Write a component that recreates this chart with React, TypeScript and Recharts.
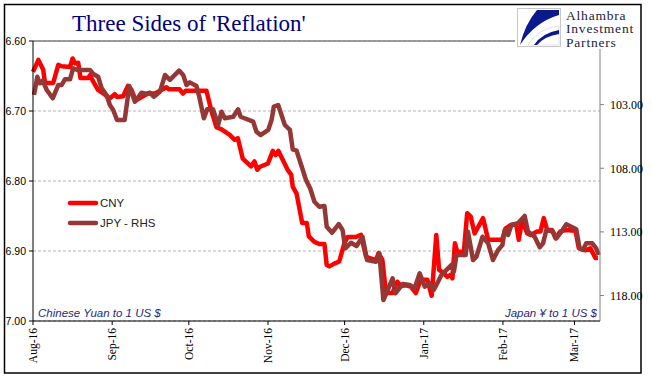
import React from "react";
import { LineChart, Line, XAxis, YAxis, CartesianGrid, ReferenceLine } from "recharts";

// Days since 1 Aug 2016
const monthDays = [0, 31, 61, 92, 122, 153, 184, 212];
const monthLabels = ["Aug-16", "Sep-16", "Oct-16", "Nov-16", "Dec-16", "Jan-17", "Feb-17", "Mar-17"];

const cnyTicks = [6.6, 6.7, 6.8, 6.9, 7.0];
const jpyTicks = [103, 108, 113, 118];

const cnyDays = [0, 2.1, 4.0, 4.7, 7.9, 9.9, 11.2, 14.5, 15.5, 16.4, 17.7, 18.6, 21.6, 22.3, 23.6, 25.5, 27.5, 30.1, 32.0, 32.9, 35.3, 37.2, 38.6, 40.2, 42.5, 45.0, 47.7, 50.3, 52.2, 53.2, 57.4, 58.7, 59.8, 67.9, 69.8, 71.8, 73.7, 77.0, 78.9, 80.2, 82.1, 85.4, 86.7, 87.8, 88.7, 92.0, 93.9, 95.0, 96.1, 99.7, 101.1, 101.7, 103.2, 105.4, 107.2, 108.0, 110.2, 112.1, 114.1, 115.0, 116.0, 118.0, 119.9, 121.9, 123.2, 126.4, 128.4, 130.4, 131.6, 134.3, 135.3, 136.8, 138.2, 140.7, 142.7, 144.0, 146.0, 147.9, 149.9, 151.8, 154.4, 156.1, 157.9, 159.0, 160.9, 162.2, 163.6, 164.2, 165.2, 166.1, 168.7, 170.0, 171.4, 172.9, 176.2, 178.2, 183.7, 185.0, 187.0, 189.2, 190.2, 191.5, 193.5, 194.8, 197.4, 198.7, 200.0, 201.3, 203.2, 204.6, 206.5, 208.5, 212.4, 213.7, 216.3, 218.2, 220.2, 221.2];
const cnyValues = [6.644, 6.627, 6.641, 6.660, 6.660, 6.634, 6.636, 6.637, 6.625, 6.632, 6.631, 6.653, 6.653, 6.649, 6.658, 6.670, 6.675, 6.682, 6.676, 6.680, 6.679, 6.664, 6.670, 6.685, 6.680, 6.675, 6.675, 6.670, 6.666, 6.669, 6.669, 6.675, 6.671, 6.671, 6.699, 6.723, 6.726, 6.734, 6.741, 6.739, 6.768, 6.779, 6.772, 6.784, 6.780, 6.775, 6.757, 6.763, 6.757, 6.784, 6.791, 6.808, 6.818, 6.860, 6.860, 6.879, 6.887, 6.890, 6.890, 6.920, 6.922, 6.918, 6.915, 6.889, 6.880, 6.880, 6.877, 6.908, 6.910, 6.913, 6.903, 6.913, 6.960, 6.960, 6.944, 6.950, 6.949, 6.951, 6.960, 6.941, 6.941, 6.964, 6.877, 6.927, 6.932, 6.937, 6.934, 6.939, 6.889, 6.901, 6.901, 6.846, 6.851, 6.875, 6.853, 6.884, 6.884, 6.868, 6.863, 6.862, 6.884, 6.856, 6.875, 6.877, 6.872, 6.872, 6.853, 6.870, 6.870, 6.882, 6.872, 6.870, 6.871, 6.896, 6.899, 6.896, 6.910, 6.910];

const jpyDays = [0.4, 1.7, 2.7, 3.8, 5.4, 7.7, 9.9, 11.2, 12.5, 14.5, 15.7, 17.7, 22.3, 23.6, 25.5, 26.9, 28.8, 30.1, 31.4, 32.9, 35.9, 37.7, 39.9, 42.5, 44.5, 45.8, 47.3, 49.7, 51.7, 53.6, 57.2, 58.8, 60.1, 61.4, 64.0, 65.1, 66.9, 68.2, 70.5, 72.5, 73.8, 75.1, 78.4, 80.3, 81.3, 86.2, 87.5, 89.1, 92.1, 93.4, 94.3, 96.0, 98.6, 100.6, 101.7, 103.2, 106.9, 108.5, 110.2, 112.1, 114.1, 115.0, 117.1, 119.7, 121.2, 122.3, 124.5, 126.7, 129.0, 130.8, 134.3, 135.6, 137.2, 140.8, 141.9, 144.8, 147.5, 149.4, 151.4, 153.4, 155.3, 156.9, 158.6, 159.9, 161.9, 163.8, 164.8, 165.8, 169.4, 170.3, 172.3, 173.6, 176.0, 178.2, 180.1, 182.1, 183.8, 184.7, 186.0, 187.3, 189.9, 192.5, 193.8, 196.4, 198.4, 199.7, 201.0, 203.6, 204.9, 206.9, 208.8, 212.7, 214.0, 215.3, 216.6, 219.0, 220.5, 221.5];
const jpyValues = [102.24, 100.81, 101.32, 101.12, 101.85, 102.50, 101.46, 101.46, 101.01, 101.01, 100.15, 100.28, 100.28, 100.59, 100.81, 101.72, 102.24, 103.03, 103.42, 104.21, 104.21, 101.54, 102.77, 102.06, 102.16, 102.06, 102.38, 101.98, 100.67, 101.06, 100.33, 100.67, 101.46, 101.25, 101.54, 102.38, 104.07, 103.37, 103.37, 104.60, 103.56, 104.07, 103.95, 103.37, 103.95, 104.34, 105.13, 105.39, 104.99, 104.21, 103.16, 103.03, 104.60, 104.99, 106.51, 106.62, 108.92, 109.57, 110.63, 111.02, 110.96, 112.59, 113.06, 112.38, 112.85, 114.29, 113.85, 114.11, 113.38, 115.21, 115.34, 114.68, 118.35, 116.65, 117.82, 117.09, 117.17, 117.43, 116.25, 117.31, 117.04, 117.56, 116.91, 116.39, 115.99, 115.60, 116.13, 114.81, 114.81, 112.98, 115.21, 114.95, 113.38, 113.90, 115.21, 114.42, 114.03, 112.85, 113.24, 112.46, 112.32, 111.75, 112.98, 113.38, 114.21, 113.90, 112.85, 112.98, 113.50, 112.98, 112.40, 112.79, 114.29, 114.42, 113.90, 113.90, 114.29, 114.81];

const cnyData = cnyDays.map((d, i) => ({ day: d, cny: cnyValues[i] }));
const jpyData = jpyDays.map((d, i) => ({ day: d, jpy: jpyValues[i] }));

const RED = "#FF0000";
const BROWN = "#953735";

const MonthTick = (props: any) => {
  const { x, y, payload } = props;
  const idx = monthDays.indexOf(payload.value);
  const ty = y + 1;
  return (
    <text
      x={x}
      y={ty}
      transform={`rotate(-90 ${x} ${ty})`}
      textAnchor="end"
      dy="0.35em"
      fontSize={11.5}
      fontFamily="'Liberation Serif', serif"
      fill="#000"
    >
      {idx >= 0 ? monthLabels[idx] : ""}
    </text>
  );
};

export default function App() {
  return (
    <div style={{ position: "absolute", left: 0, top: 0, width: 652, height: 381, background: "#fff" }}>
      <LineChart width={652} height={381} margin={{ top: 41, right: 0, bottom: 12, left: 0 }}>
        <CartesianGrid yAxisId="left" vertical={false} stroke="#b4b4b4" strokeDasharray="3 2" />
        <XAxis
          dataKey="day"
          type="number"
          domain={[0, 222]}
          ticks={monthDays}
          interval={0}
          height={48}
          stroke="#000"
          tickSize={4}
          tick={<MonthTick />}
          allowDuplicatedCategory={false}
        />
        <YAxis
          yAxisId="left"
          domain={[6.6, 7.0]}
          reversed
          ticks={cnyTicks}
          interval={0}
          width={33}
          stroke="#000"
          tickSize={4}
          tickMargin={3}
          tickFormatter={(v: number) => v.toFixed(2)}
          tick={{ fill: "#000", fontSize: 10.5, fontFamily: "'Liberation Sans', sans-serif" }}
        />
        <YAxis
          yAxisId="right"
          orientation="right"
          domain={[98, 120]}
          reversed
          ticks={jpyTicks}
          interval={0}
          width={52}
          stroke="#808080"
          tickSize={4}
          tickMargin={6}
          tickFormatter={(v: number) => v.toFixed(2)}
          tick={{ fill: "#000", fontSize: 12, fontFamily: "'Liberation Serif', serif" }}
        />
        <ReferenceLine yAxisId="left" y={6.6} stroke="#808080" strokeWidth={1.5} />
        <Line
          yAxisId="left"
          data={cnyData}
          dataKey="cny"
          type="linear"
          stroke={RED}
          strokeWidth={4.5}
          dot={false}
          strokeLinejoin="round"
          isAnimationActive={false}
        />
        <Line
          yAxisId="right"
          data={jpyData}
          dataKey="jpy"
          type="linear"
          stroke={BROWN}
          strokeWidth={4.5}
          dot={false}
          strokeLinejoin="round"
          isAnimationActive={false}
        />
      </LineChart>
      <svg
        width={652}
        height={381}
        style={{ position: "absolute", left: 0, top: 0, pointerEvents: "none" }}
      >
        <rect x={4.5} y={4.5} width={636.5} height={368.5} fill="none" stroke="#000" strokeWidth={1.5} />
        <text x={72} y={31} fontFamily="'Liberation Serif', serif" fontSize={23} fill="#000080">
          Three Sides of 'Reflation'
        </text>
        {/* logo */}
        <rect x={515} y={6} width={124} height={43} fill="#fff" />
        <rect x={517.5} y={8.5} width={43} height={38} fill="#fff" stroke="#c8c8c8" strokeWidth={1} />
        <path d="M537 10 L559 10 L559 15 Q535 22 520 45 Q525 24 537 10 Z" fill="#0a1a8c" />
        <path d="M559 26 Q538 28 528 45 L559 45 Z" fill="#fff" stroke="#d0d0d0" strokeWidth={0.6} />
        <path d="M559 30 Q542 33 534 45 L537 45 Q545 36 559 34 Z" fill="#0a1a8c" />
        <g fontFamily="'Liberation Serif', serif" fontSize={13.5} letterSpacing={0.8} fill="#1c1c3c">
          <text x={566} y={19.5}>Alhambra</text>
          <text x={566} y={33}>Investment</text>
          <text x={566} y={46.5}>Partners</text>
        </g>
        {/* legend */}
        <line x1={70} y1={203} x2={96} y2={203} stroke={RED} strokeWidth={4.5} strokeLinecap="round" />
        <line x1={70} y1={223} x2={96} y2={223} stroke={BROWN} strokeWidth={4.5} strokeLinecap="round" />
        <g fontFamily="'Liberation Sans', sans-serif" fontSize={11.5} fill="#222">
          <text x={100} y={207}>CNY</text>
          <text x={100} y={227}>JPY - RHS</text>
        </g>
        {/* annotations */}
        <g fontFamily="'Liberation Sans', sans-serif" fontSize={11.5} fontStyle="italic" fill="#1f2a7a">
          <text x={38} y={317}>Chinese Yuan to 1 US $</text>
          <text x={597} y={317} textAnchor="end">Japan ¥ to 1 US $</text>
        </g>
      </svg>
    </div>
  );
}
